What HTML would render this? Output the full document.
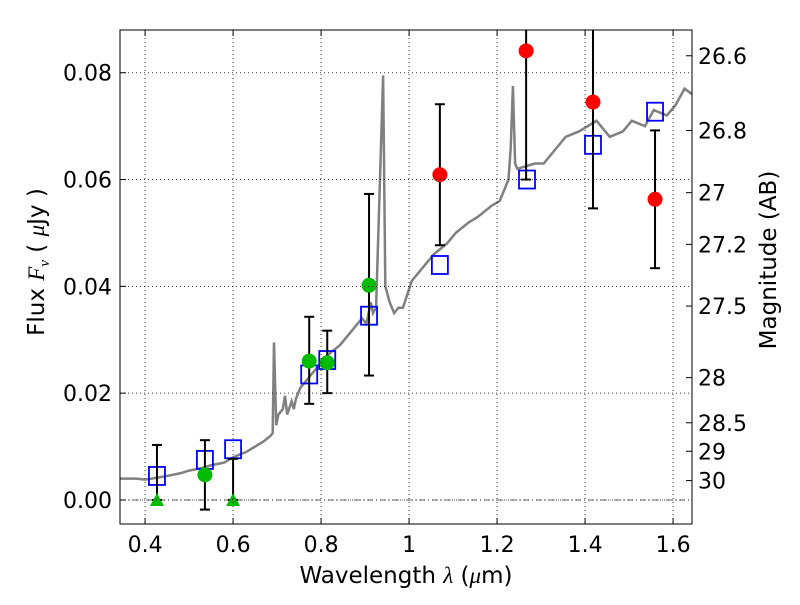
<!DOCTYPE html>
<html><head><meta charset="utf-8"><style>
body{margin:0;background:#fff}
svg text{font-family:"DejaVu Sans","Liberation Sans",sans-serif;fill:#000}
</style></head><body>
<svg id="chart" width="800" height="600" xmlns="http://www.w3.org/2000/svg"></svg>
<script>
const xTicks=[0.4,0.6,0.8,1.0,1.2,1.4,1.6];
const xTickLabels=["0.4","0.6","0.8","1","1.2","1.4","1.6"];
const yTicks=[0,0.02,0.04,0.06,0.08];
const yTickLabels=["0.00","0.02","0.04","0.06","0.08"];
const magTicks=[26.6,26.8,27,27.2,27.5,28,28.5,29,30];
const magLabels=["26.6","26.8","27","27.2","27.5","28","28.5","29","30"];
const specX=[0.343,0.38,0.4,0.43,0.45,0.48,0.5,0.53,0.55,0.58,0.6,0.63,0.65,0.67,0.685,0.69,0.693,0.698,0.703,0.713,0.718,0.723,0.733,0.738,0.743,0.753,0.773,0.793,0.813,0.843,0.863,0.893,0.903,0.913,0.918,0.925,0.941,0.946,0.956,0.966,0.976,0.986,1.006,1.026,1.056,1.086,1.106,1.136,1.156,1.186,1.206,1.216,1.226,1.231,1.236,1.241,1.246,1.266,1.286,1.306,1.336,1.356,1.386,1.406,1.426,1.456,1.486,1.506,1.536,1.556,1.586,1.606,1.626,1.643];
const specY=[0.004,0.004,0.0038,0.0042,0.0045,0.005,0.0055,0.006,0.0065,0.007,0.008,0.009,0.010,0.011,0.012,0.0125,0.0295,0.014,0.016,0.017,0.0195,0.016,0.0185,0.017,0.019,0.021,0.023,0.025,0.027,0.029,0.031,0.034,0.033,0.037,0.035,0.036,0.0795,0.04,0.037,0.035,0.036,0.036,0.041,0.043,0.046,0.048,0.050,0.052,0.053,0.055,0.056,0.058,0.060,0.066,0.0775,0.063,0.062,0.0625,0.063,0.063,0.066,0.068,0.069,0.070,0.071,0.068,0.069,0.071,0.070,0.073,0.072,0.074,0.077,0.076];
const modelX=[0.427,0.536,0.6,0.773,0.814,0.909,1.07,1.268,1.418,1.559];
const modelY=[0.0045,0.0075,0.0095,0.0235,0.0262,0.0345,0.044,0.060,0.0665,0.0727];
const greenX=[0.536,0.773,0.814,0.909];
const greenY=[0.0047,0.026,0.0257,0.0402];
const greenLo=[-0.0018,0.018,0.020,0.0233];
const greenHi=[0.0112,0.0343,0.0317,0.0573];
const limX=[0.427,0.6];
const limHi=[0.0103,0.0077];
const redX=[1.07,1.266,1.418,1.559];
const redY=[0.0609,0.0841,0.0745,0.0563];
const redLo=[0.0477,0.060,0.0546,0.0434];
const redHi=[0.0741,0.095,0.095,0.0692];

const L=120,R=692,T=30,B=524,x0=0.343,x1=1.643,y0=-0.0045,y1=0.088;
const sx=v=>L+(v-x0)/(x1-x0)*(R-L);
const sy=v=>B-(v-y0)/(y1-y0)*(B-T);
const svg=document.getElementById('chart');
const NS="http://www.w3.org/2000/svg";
function mk(tag,attrs,parent){const e=document.createElementNS(NS,tag);for(const k in attrs)e.setAttribute(k,attrs[k]);(parent||svg).appendChild(e);return e;}
const clip=mk('clipPath',{id:'cp'});mk('rect',{x:L,y:T,width:R-L,height:B-T},clip);
const plot=mk('g',{'clip-path':'url(#cp)'});


xTicks.forEach((t,i)=>{const X=sx(t);
 const g=mk('line',{x1:X,x2:X,y1:T,y2:B,stroke:'#000','stroke-dasharray':'1,3','stroke-width':0.8});
 
 mk('line',{x1:X,x2:X,y1:B,y2:B-6,stroke:'#000'});mk('line',{x1:X,x2:X,y1:T,y2:T+6,stroke:'#000'});
 const tx=mk('text',{x:X,y:B+28,'text-anchor':'middle','font-size':22});tx.textContent=xTickLabels[i];
 });
yTicks.forEach((t,i)=>{const Y=sy(t);
 const g=mk('line',{x1:L,x2:R,y1:Y,y2:Y,stroke:'#000','stroke-dasharray':'1,3','stroke-width':0.8});
 
 mk('line',{x1:L,x2:L+6,y1:Y,y2:Y,stroke:'#000'});
 const tx=mk('text',{x:L-8,y:Y+8,'text-anchor':'end','font-size':22});tx.textContent=yTickLabels[i];
 });
magTicks.forEach((m,i)=>{const f=Math.pow(10,(23.9-m)/2.5);const Y=sy(f);
 mk('line',{x1:R,x2:R-6,y1:Y,y2:Y,stroke:'#000'});
 const tx=mk('text',{x:R+6,y:Y+8,'font-size':22});tx.textContent=magLabels[i];
 });
const zl=mk('line',{x1:L,x2:R,y1:sy(0),y2:sy(0),stroke:'#666','stroke-dasharray':'6,3,1,3','stroke-width':1},plot);

const sp=mk('polyline',{points:specX.map((x,i)=>sx(x)+','+sy(specY[i])).join(' '),fill:'none',stroke:'#808080','stroke-width':2.5},plot);

function err(x,lo,hi){const X=sx(x);mk('line',{x1:X,x2:X,y1:sy(lo),y2:sy(hi),stroke:'#000','stroke-width':2},plot);
 [lo,hi].forEach(v=>mk('line',{x1:X-5,x2:X+5,y1:sy(v),y2:sy(v),stroke:'#000','stroke-width':2},plot));}
modelX.forEach((x,i)=>{const r=mk('rect',{x:sx(x)-8,y:sy(modelY[i])-9,width:16,height:18,fill:'none',stroke:'#0000ff','stroke-width':1.8},plot);
 });
limX.forEach((x,i)=>{err(x,0,limHi[i]);const X=sx(x),Y=sy(0);
 const p=mk('polygon',{points:`${X-7},${Y+6} ${X+7},${Y+6} ${X},${Y-7}`,fill:'#00bb00'},plot);
 });
greenX.forEach((x,i)=>{err(x,greenLo[i],greenHi[i]);
 const c=mk('circle',{cx:sx(x),cy:sy(greenY[i]),r:7.5,fill:'#00bb00'},plot);
 });
redX.forEach((x,i)=>{err(x,redLo[i],redHi[i]);
 const c=mk('circle',{cx:sx(x),cy:sy(redY[i]),r:7.5,fill:'#ff0000'},plot);
 });
const fr=mk('rect',{x:L,y:T,width:R-L,height:B-T,fill:'none',stroke:'#000','stroke-width':1});

let t=mk('text',{x:406,y:583,'text-anchor':'middle','font-size':23,'xml:space':'preserve'});
t.innerHTML='Wavelength  <tspan font-style="italic" font-family="Liberation Serif, serif">λ</tspan> (<tspan font-style="italic" font-family="Liberation Serif, serif">μ</tspan>m)';

t=mk('text',{x:44,y:262,'text-anchor':'middle','font-size':23,transform:'rotate(-90 44 262)'});
t.innerHTML='Flux  <tspan font-style="italic" font-family="Liberation Serif, serif">F<tspan font-size="15" dy="5">ν</tspan></tspan><tspan dy="-5">  (  </tspan><tspan font-style="italic" font-family="Liberation Serif, serif">μ</tspan>Jy )';

t=mk('text',{x:776,y:260,'text-anchor':'middle','font-size':23,transform:'rotate(-90 776 260)'});t.textContent='Magnitude (AB)';

</script>
</body></html>
